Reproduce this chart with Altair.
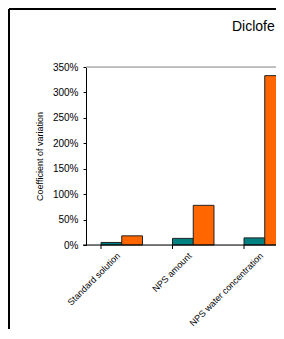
import altair as alt
import pandas as pd

categories = ["Standard solution", "NPS amount", "NPS water concentration"]
series_names = ["Series 1", "Series 2"]
series1 = [0.05, 0.13, 0.14]
series2 = [0.18, 0.78, 3.33]
y_ticks = [0, 0.5, 1.0, 1.5, 2.0, 2.5, 3.0, 3.5]
title_text = "Diclofenac"
y_title = "Coefficient of variation"

rows = []
for i, c in enumerate(categories):
    rows.append({"cat": c, "series": series_names[0], "v": series1[i]})
    rows.append({"cat": c, "series": series_names[1], "v": series2[i]})
df = pd.DataFrame(rows)
cat_df = pd.DataFrame({"cat": categories})
one = pd.DataFrame({"a": [0]})

STEP = 71.5
W = 190
H = 178
FONT = "Liberation Sans"

xscale = alt.Scale(domain=categories, range=[0, STEP * len(categories)],
                   paddingInner=0.42, paddingOuter=0.21)
yscale = alt.Scale(domain=[0, 3.5], nice=False)

bars = alt.Chart(df).mark_bar(stroke="#222222", strokeWidth=1).encode(
    x=alt.X("cat:N", scale=xscale, sort=categories,
            axis=alt.Axis(title=None, labelAngle=-45, labelAlign="right", labelBaseline="top",
                          ticks=False, tickSize=0, domain=False, labelPadding=6, labelOffset=-6,
                          labelOverlap=False, labelLimit=300,
                          labelColor="black", labelFontSize=9, labelFont=FONT)),
    xOffset=alt.XOffset("series:N", scale=alt.Scale(domain=series_names, paddingInner=0, paddingOuter=0)),
    y=alt.Y("v:Q", scale=yscale,
            axis=alt.Axis(title=y_title, values=y_ticks, format=".0%", grid=False,
                          labelOverlap=False,
                          tickSize=3, tickColor="black", domainColor="black",
                          labelColor="black", labelFontSize=10, labelFont=FONT, labelPadding=5,
                          titleFontSize=9, titleFontWeight="normal", titleFont=FONT,
                          titleColor="black", titlePadding=8)),
    color=alt.Color("series:N", scale=alt.Scale(domain=series_names, range=["#008080", "#FF6600"]),
                    legend=None),
)

top_line = alt.Chart(one).mark_rule(color="#b0b0b0", strokeWidth=1.5).encode(
    y=alt.value(0), x=alt.value(0), x2=alt.value(W + 20),
)

base_line = alt.Chart(one).mark_rule(color="black", strokeWidth=1).encode(
    y=alt.value(H), x=alt.value(-3), x2=alt.value(W + 20),
)

bticks = alt.Chart(cat_df).mark_rule(color="black").encode(
    x=alt.X("cat:N", scale=xscale, bandPosition=0, sort=categories),
    y=alt.value(H), y2=alt.value(H + 4),
)

frame_left = alt.Chart(one).mark_rule(color="black", strokeWidth=2).encode(
    x=alt.value(-77), y=alt.value(-58), y2=alt.value(300),
)
frame_top = alt.Chart(one).mark_rule(color="black", strokeWidth=2).encode(
    x=alt.value(-77), x2=alt.value(W + 20), y=alt.value(-58),
)

title = alt.Chart(one).mark_text(align="left", baseline="middle", fontSize=14, font=FONT,
                                 color="black", limit=44, ellipsis="\u200b").encode(
    x=alt.value(146), y=alt.value(-40), text=alt.value(title_text),
)

chart = alt.layer(bars, bticks, frame_left, frame_top, top_line, base_line, title).properties(
    width=W, height=H,
    padding={"left": 78, "top": 59, "right": 0, "bottom": 84},
    autosize=alt.AutoSizeParams(type="none"),
).configure_view(stroke="transparent").configure(font=FONT)

chart.save("out.html", embed_options={"renderer": "svg", "actions": False})
